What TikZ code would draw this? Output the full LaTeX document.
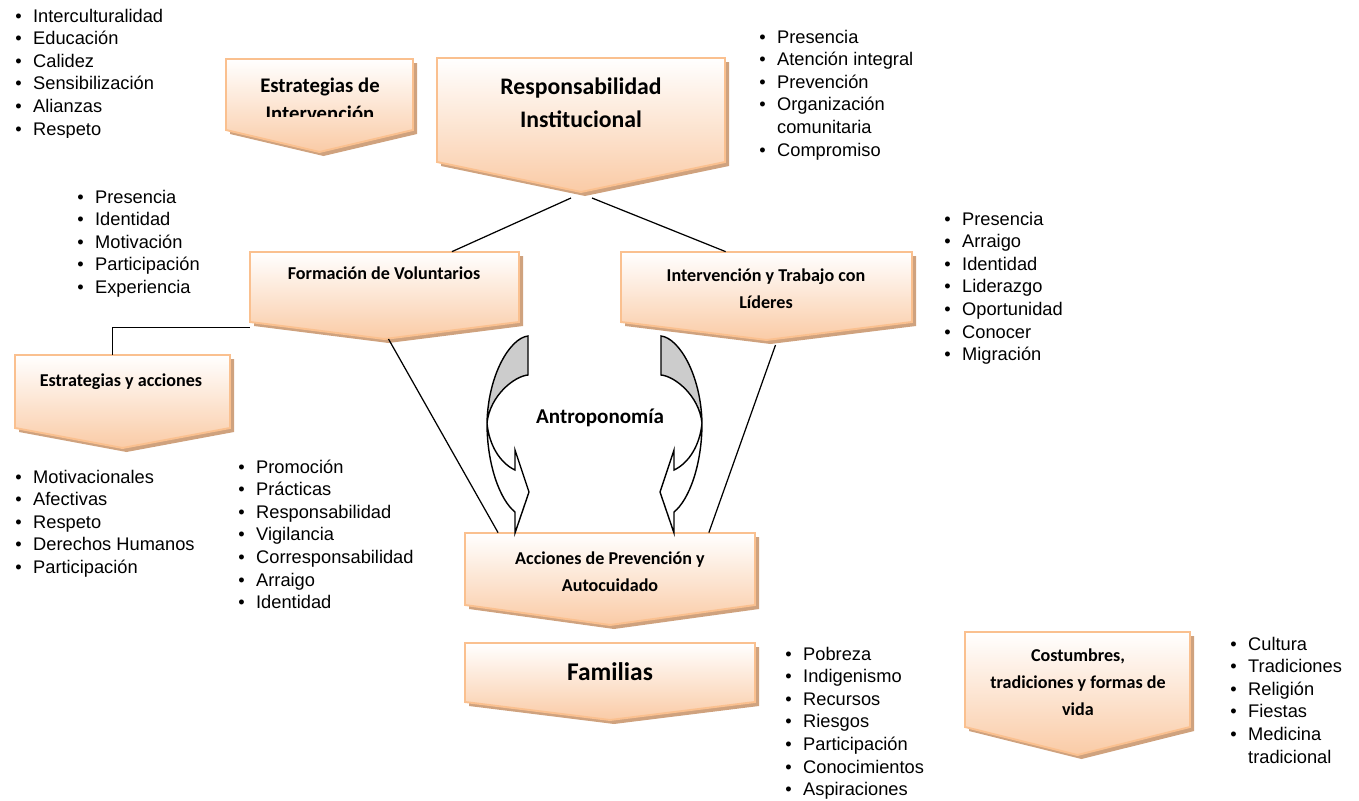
\documentclass[tikz,border=0pt]{standalone}
\usepackage{fontspec}
\setmainfont{Liberation Sans}
\newfontfamily\boxfont{Carlito}
\usetikzlibrary{positioning, fit, calc}
\definecolor{boxedge}{HTML}{FAC08F}
\definecolor{boxpeach}{HTML}{FACBA6}
\definecolor{boxshadow}{HTML}{CFA27E}
\definecolor{backface}{HTML}{CCCCCC}
\tikzset{
    chevron/.style={
        draw=boxedge, line width=1.1pt,
        top color=white, bottom color=boxpeach,
    },
    chevshadow/.style={fill=boxshadow},
    boxtext/.style={
        font=\boxfont\bfseries\fontsize{10.3}{15.3}\selectfont,
        align=center, inner sep=0pt,
    },
    bullets/.style={
        font=\fontsize{10.4}{12.85}\selectfont,
        anchor=north west, inner sep=0pt,
    },
    link/.style={line width=0.7pt, black},
    backpart/.style={fill=backface, draw=black, line width=0.8pt},
    frontpart/.style={fill=white, draw=black, line width=0.8pt},
    antroarrow/.pic={
        \path[backpart] (-66.5,336) .. controls (-84.5,338) and (-106.5,375) .. (-107.5,423)
            .. controls (-104.5,395) and (-79.5,376) .. (-66.5,375) -- cycle;
        \path[frontpart] (-107.5,423) .. controls (-107.5,465) and (-94.5,500) .. (-79.5,512)
            -- (-79.5,533) -- (-65.5,492) -- (-79.5,450) -- (-79.5,470)
            .. controls (-94.5,463) and (-105.5,445) .. (-107.5,423) -- cycle;
    },
}
% chevron box: name, left, top, right, side bottom, tip
\newcommand{\chevbox}[6]{%
    \fill[chevshadow] (#2+4,#3+4) -- (#4+4,#3+4) -- (#4+4,#5+4)
        -- ({(#2+#4)/2+4},#6+4) -- (#2+4,#5+4) -- cycle;
    \path[chevron] (#2,#3) -- (#4,#3) -- (#4,#5) -- ({(#2+#4)/2},#6) -- (#2,#5) -- cycle;
    \node[fit={(#2,#3) (#4,#5)}, inner sep=0pt] (#1) {};
    \coordinate (#1-tip) at ({(#2+#4)/2},#6);
}
\newcommand{\bulletlist}[1]{\begin{tabular}{@{}l@{\hspace{6.5pt}}l@{}}#1\end{tabular}}

\begin{document}
\begin{tikzpicture}[x=0.02cm, y=-0.02cm]
\useasboundingbox (0,0) rectangle (1359,801);

% =============================================
% Boxes
% =============================================
\chevbox{estint}{226}{59}{413}{130}{152}
\chevbox{resp}{437}{58}{725}{162}{192}
\chevbox{form}{250}{252}{519}{322}{339}
\chevbox{inter}{621}{252}{912}{322}{340}
\chevbox{estacc}{15}{355}{230}{428}{448}
\chevbox{acc}{465}{533}{755}{605}{625}
\chevbox{fam}{465}{643}{755}{702}{720}
\chevbox{cost}{965}{632}{1190}{727}{755}

\begin{scope}
    \clip (226,59) rectangle (413,116);
    \node[boxtext, font=\boxfont\bfseries\fontsize{11.8}{15.9}\selectfont] (estint-txt) at (320,99)
        {Estrategias de\\Intervención};
\end{scope}
\node[boxtext, font=\boxfont\bfseries\fontsize{13.5}{18.7}\selectfont] (resp-txt) at (581,103)
    {Responsabilidad\\Institucional};
\node[boxtext] (form-txt) at (384,273) {Formación de Voluntarios};
\node[boxtext] (inter-txt) at (766,289) {Intervención y Trabajo con\\Líderes};
\node[boxtext] (estacc-txt) at (121,382) {Estrategias y acciones};
\node[boxtext] (acc-txt) at (610,572) {Acciones de Prevención y\\Autocuidado};
\node[boxtext, font=\boxfont\bfseries\fontsize{14.5}{17}\selectfont] (fam-txt) at (610,672) {Familias};
\node[boxtext] (cost-txt) at (1078,682) {Costumbres,\\tradiciones y formas de\\vida};

% =============================================
% Antroponomía
% =============================================
\pic at (594.5,0) {antroarrow};
\pic[xscale=-1] at (594.5,0) {antroarrow};
\node[boxtext, font=\boxfont\bfseries\fontsize{12}{14}\selectfont] (antro) at (600,418) {Antroponomía};

% =============================================
% Connectors
% =============================================
\draw[link] ($(resp-tip)+(-10,6)$) -- ($(form.north west)!0.75!(form.north east)$);
\draw[link] ($(resp-tip)+(11,6)$) -- ($(inter.north west)!0.36!(inter.north east)$);
\draw[link] ($(form-tip)+(4,0)$) -- ($(acc.north west)!0.115!(acc.north east)$);
\draw[link] ($(inter-tip)+(9,5)$) -- ($(acc.north west)!0.84!(acc.north east)$);
\draw[link] ($(estacc.north west)!0.455!(estacc.north east)$) |- ($(form.south west)+(0,5)$);

% =============================================
% Bullet lists
% =============================================
\begin{scope}
    \clip (0,0) rectangle (230,137);
    \node[bullets] (list-estint) at (15,6) {\bulletlist{
        \textbullet & Interculturalidad\\ \textbullet & Educación\\ \textbullet & Calidez\\
        \textbullet & Sensibilización\\ \textbullet & Alianzas\\ \textbullet & Respeto}};
\end{scope}
\node[bullets] (list-resp) at (759,27) {\bulletlist{
    \textbullet & Presencia\\ \textbullet & Atención integral\\ \textbullet & Prevención\\
    \textbullet & Organización\\ & comunitaria\\ \textbullet & Compromiso}};
\node[bullets] (list-form) at (77,187) {\bulletlist{
    \textbullet & Presencia\\ \textbullet & Identidad\\ \textbullet & Motivación\\
    \textbullet & Participación\\ \textbullet & Experiencia}};
\node[bullets] (list-inter) at (944,209) {\bulletlist{
    \textbullet & Presencia\\ \textbullet & Arraigo\\ \textbullet & Identidad\\
    \textbullet & Liderazgo\\ \textbullet & Oportunidad\\ \textbullet & Conocer\\
    \textbullet & Migración}};
\node[bullets] (list-estacc) at (15,467) {\bulletlist{
    \textbullet & Motivacionales\\ \textbullet & Afectivas\\ \textbullet & Respeto\\
    \textbullet & Derechos Humanos\\ \textbullet & Participación}};
\node[bullets] (list-acc) at (238,457) {\bulletlist{
    \textbullet & Promoción\\ \textbullet & Prácticas\\ \textbullet & Responsabilidad\\
    \textbullet & Vigilancia\\ \textbullet & Corresponsabilidad\\ \textbullet & Arraigo\\
    \textbullet & Identidad}};
\node[bullets] (list-fam) at (785,644) {\bulletlist{
    \textbullet & Pobreza\\ \textbullet & Indigenismo\\ \textbullet & Recursos\\
    \textbullet & Riesgos\\ \textbullet & Participación\\ \textbullet & Conocimientos\\
    \textbullet & Aspiraciones}};
\node[bullets] (list-cost) at (1230,634) {\bulletlist{
    \textbullet & Cultura\\ \textbullet & Tradiciones\\ \textbullet & Religión\\
    \textbullet & Fiestas\\ \textbullet & Medicina\\ & tradicional}};

\end{tikzpicture}
\end{document}
